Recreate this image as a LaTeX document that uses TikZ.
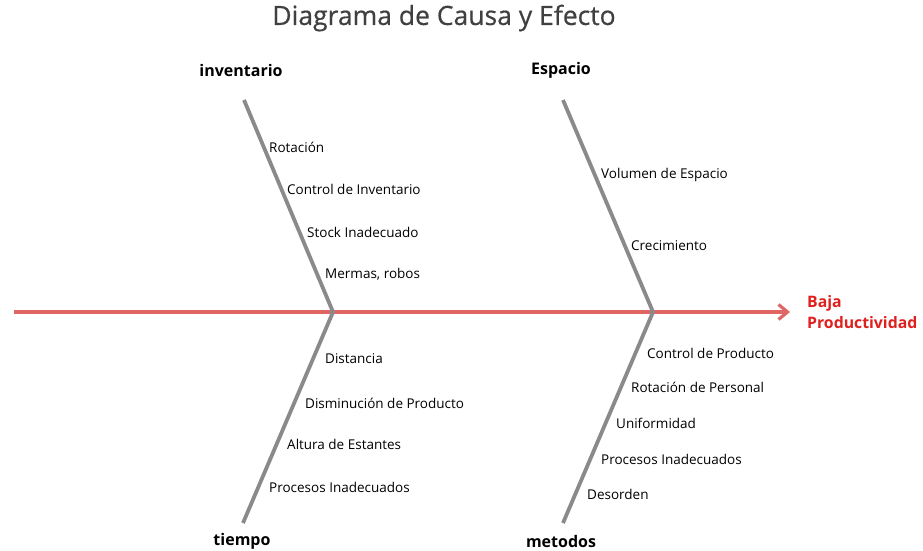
\documentclass[tikz,border=0pt]{standalone}
\usepackage{fontspec}
\setmainfont{Open Sans}
\newfontfamily\titlefont{Open Sans}[FakeBold=0.5]
\usepackage{tikz}
\usetikzlibrary{arrows.meta}
\definecolor{spinered}{HTML}{E06666}
\definecolor{effectred}{HTML}{E0201E}
\definecolor{bonegray}{HTML}{8A8A8A}
\definecolor{titlegray}{HTML}{404040}
\tikzstyle{bone}=[draw=bonegray,line width=3.8pt,line join=round]
\tikzstyle{spine}=[draw=spinered,line width=3.2pt,-{Straight Barb[length=9pt,width=15pt]}]
\tikzstyle{category}=[font=\fontsize{16}{18}\selectfont\bfseries,inner sep=0pt]
\tikzstyle{cause}=[anchor=west,font=\fontsize{13.5}{15}\selectfont,inner sep=0pt]
\tikzset{every picture/.style={
    x=1pt,y=-1pt
  }
}
\begin{document}
\begin{tikzpicture}
      \fill[white] (0,0) rectangle (923,550);
      \useasboundingbox (0,0) rectangle (923,550);
      \node[font=\titlefont\fontsize{26.5}{30}\selectfont,text=titlegray] at (444,18) (title) {Diagrama de Causa y Efecto};
      % categories
      \node[category] at (241,70) (inv) {inventario};
      \node[category] at (561,70) (esp) {Espacio};
      \node[category] at (242,541) (tie) {tiempo};
      \node[category] at (561,541) (met) {metodos};
      % spine
      \coordinate (tail) at (14,312);
      \coordinate (head) at (790,312);
      \node[anchor=west,align=left,text=effectred,inner sep=0pt,
        font=\fontsize{15.8}{21}\selectfont\bfseries] at (807,312) (efecto) {Baja\\Productividad};
      \draw[spine] (tail)--(head);
      % bones
      \coordinate (invtop) at (244,100);
      \coordinate (j1) at (333,312);
      \coordinate (tiebot) at (243,523);
      \coordinate (esptop) at (563,100);
      \coordinate (j2) at (653,312);
      \coordinate (metbot) at (563,523);
      \draw[bone] (invtop)--(j1)--(tiebot);
      \draw[bone] (esptop)--(j2)--(metbot);
      % causes
      \node[cause] at (269,147) (rot) {Rotación};
      \node[cause] at (287,189) (ctrlinv) {Control de Inventario};
      \node[cause] at (307,232) (stock) {Stock Inadecuado};
      \node[cause] at (325,274) (mermas) {Mermas, robos};
      \node[cause] at (601,175) (vol) {Volumen de Espacio};
      \node[cause] at (631,246) (crec) {Crecimiento};
      \node[cause] at (325,359) (dist) {Distancia};
      \node[cause] at (305,403) (dism) {Disminución de Producto};
      \node[cause] at (287,444) (alt) {Altura de Estantes};
      \node[cause] at (269,487) (proct) {Procesos Inadecuados};
      \node[cause] at (647,353) (ctrlprod) {Control de Producto};
      \node[cause] at (631,387) (rotper) {Rotación de Personal};
      \node[cause] at (616,423) (unif) {Uniformidad};
      \node[cause] at (601,459) (procm) {Procesos Inadecuados};
      \node[cause] at (587,494) (des) {Desorden};
    \end{tikzpicture}
\end{document}
